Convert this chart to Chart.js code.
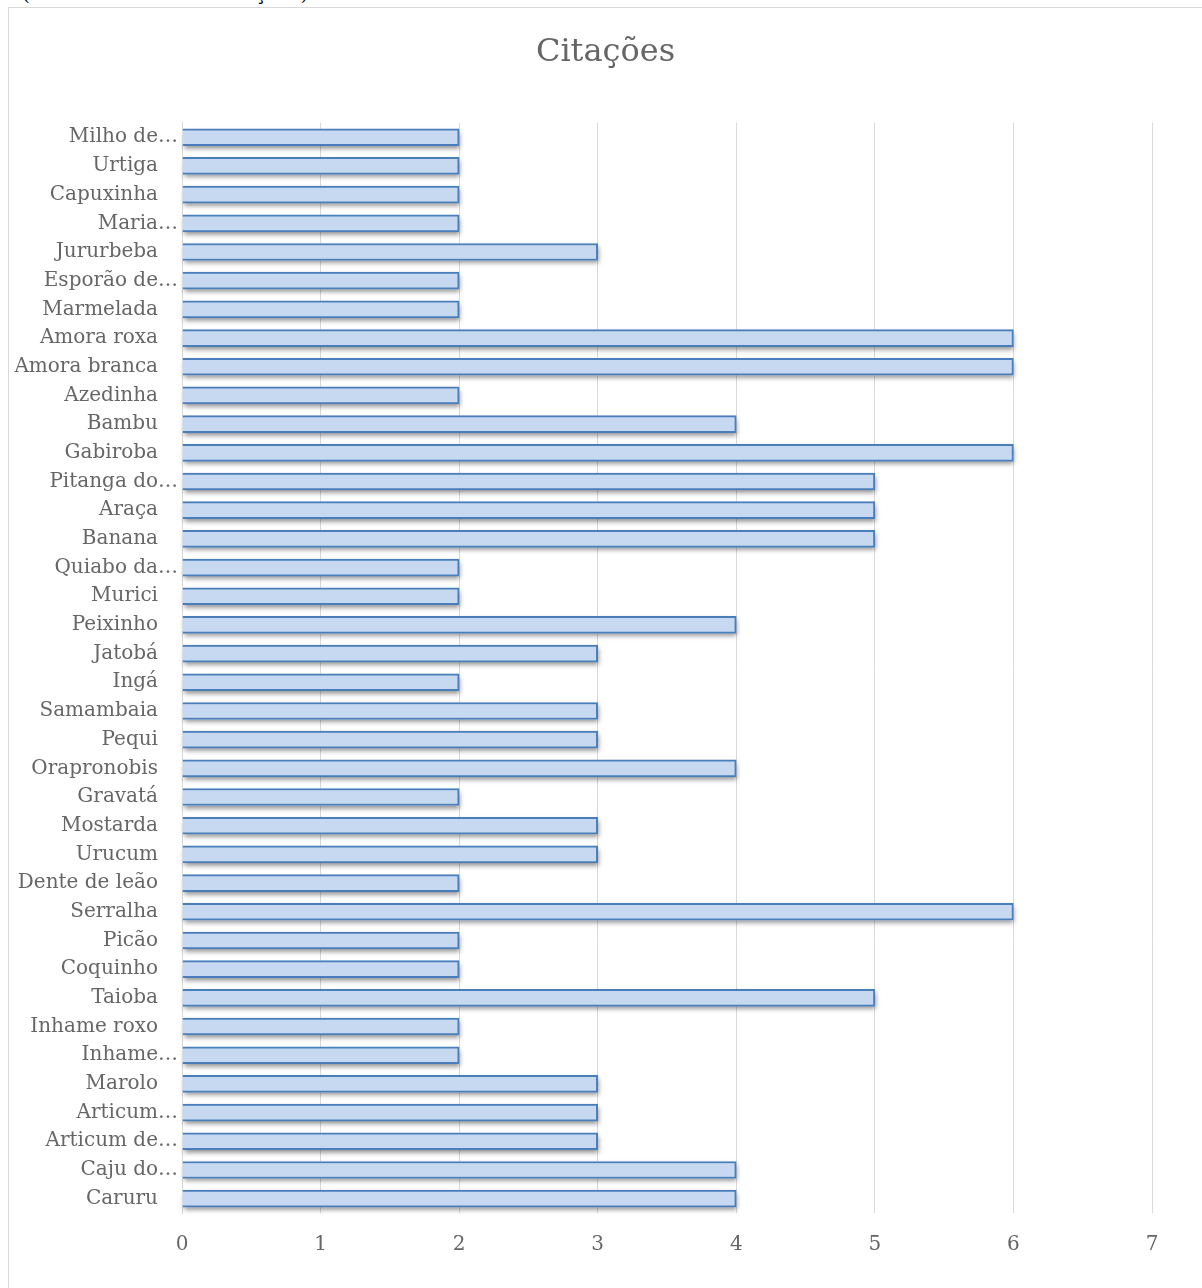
<!DOCTYPE html>
<html>
<head>
<meta charset="utf-8">
<script src="https://cdn.jsdelivr.net/npm/chart.js@4.4.0/dist/chart.umd.min.js"></script>
<style>
  body { margin: 0; background: #fff; overflow: hidden; }
  #note { position: absolute; left: 22px; top: -17px; font: 20px "DejaVu Serif"; line-height: 20px; color: #000; white-space: nowrap; }
  #frame { position: absolute; left: 8px; top: 7px; width: 1300px; height: 1300px; border: 1px solid #d9d9d9; }
  #frame canvas { position: absolute; left: 0; top: 0; }
</style>
</head>
<body>
<div id="note">(com mais de duas citações)</div>
<div id="frame"><canvas id="chartCitacoes" width="1193" height="1280"></canvas></div>
<script>
var categorias = ["Milho de…", "Urtiga", "Capuxinha", "Maria…", "Jururbeba", "Esporão de…", "Marmelada",
  "Amora roxa", "Amora branca", "Azedinha", "Bambu", "Gabiroba", "Pitanga do…", "Araça", "Banana",
  "Quiabo da…", "Murici", "Peixinho", "Jatobá", "Ingá", "Samambaia", "Pequi", "Orapronobis", "Gravatá",
  "Mostarda", "Urucum", "Dente de leão", "Serralha", "Picão", "Coquinho", "Taioba", "Inhame roxo",
  "Inhame…", "Marolo", "Articum…", "Articum de…", "Caju do…", "Caruru"];
var citacoes = [2, 2, 2, 2, 3, 2, 2,
  6, 6, 2, 4, 6, 5, 5, 5,
  2, 2, 4, 3, 2, 3, 3, 4, 2,
  3, 3, 2, 6, 2, 2, 5, 2,
  2, 3, 3, 3, 4, 4];
var xMin = 0;
var xMax = 7;

// sombra embaixo das barras, como no Excel
var barShadow = {
  id: "barShadow",
  beforeDatasetsDraw: function (chart) {
    var ctx = chart.ctx;
    var meta = chart.getDatasetMeta(0);
    ctx.save();
    ctx.shadowColor = "rgba(0,0,0,0.45)";
    ctx.shadowBlur = 5;
    ctx.shadowOffsetX = 1;
    ctx.shadowOffsetY = 3;
    ctx.fillStyle = "#ffffff";
    meta.data.forEach(function (bar) {
      var p = bar.getProps(["x", "y", "base", "height"], true);
      ctx.fillRect(p.base, p.y - p.height / 2, p.x - p.base, p.height);
    });
    ctx.restore();
  },
};

var ctx = document.getElementById("chartCitacoes").getContext("2d");
var myChart = new Chart(ctx, {
  type: "bar",
  data: {
    labels: categorias,
    datasets: [
      {
        label: "Citações",
        data: citacoes,
        backgroundColor: "#c6d9f1",
        borderColor: "#4a7ebb",
        borderWidth: 2,
        barThickness: 17,
      },
    ],
  },
  plugins: [barShadow],
  options: {
    indexAxis: "y",
    responsive: false,
    animation: false,
    layout: {
      padding: 0,
    },
    plugins: {
      legend: { display: false },
      tooltip: { enabled: false },
      title: {
        display: true,
        text: "Citações",
        color: "#666666",
        font: { family: "DejaVu Serif", size: 32, weight: "normal", lineHeight: 1.2 },
        padding: { top: 25, bottom: 51.5 },
      },
    },
    scales: {
      x: {
        min: xMin,
        max: xMax,
        ticks: {
          stepSize: 1,
          color: "#666666",
          font: { family: "DejaVu Serif", size: 20 },
          padding: 20,
        },
        grid: { color: "#d9d9d9", lineWidth: 1, drawTicks: false },
        border: { display: false },
        afterFit: function (scale) {
          scale.height = 75;
        },
      },
      y: {
        ticks: {
          color: "#666666",
          font: { family: "DejaVu Serif", size: 20 },
          padding: 4,
          autoSkip: false,
          callback: function (value) {
            var txt = this.getLabelForValue(value);
            return txt.slice(-1) === "…" ? txt : txt + "\u2003";
          },
        },
        grid: { display: false, drawTicks: false },
        border: { display: true, color: "#d9d9d9" },
        afterFit: function (scale) {
          scale.width = 173;
        },
      },
      // margem direita vazia
      yRight: {
        type: "linear",
        position: "right",
        ticks: { display: false },
        grid: { display: false, drawTicks: false },
        border: { display: false },
        afterFit: function (scale) {
          scale.width = 50;
        },
      },
    },
  },
});
</script>
</body>
</html>
